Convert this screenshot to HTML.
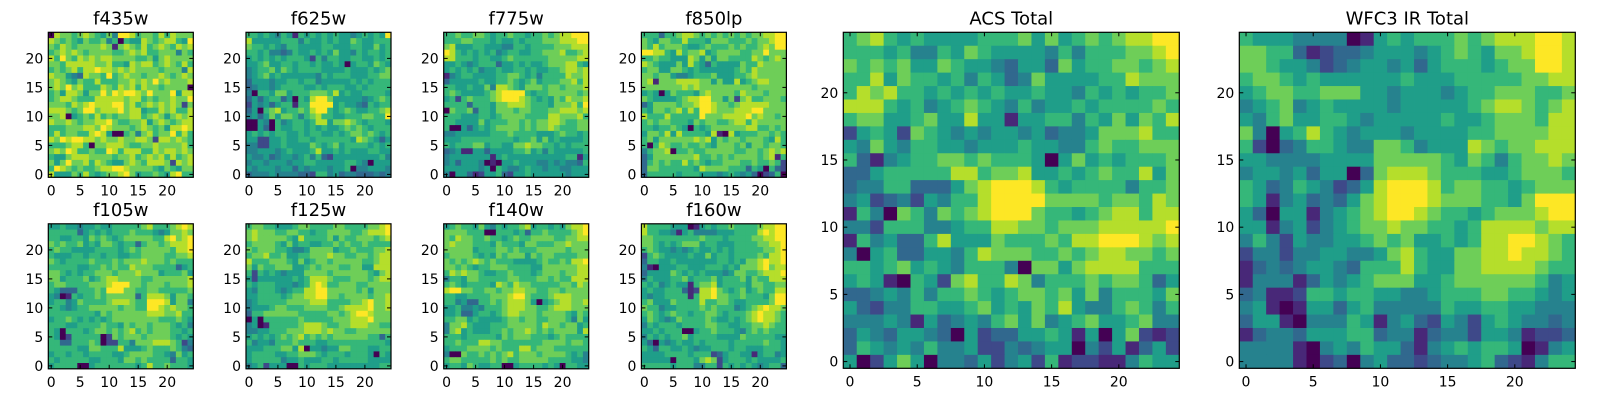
<!DOCTYPE html>
<html><head><meta charset="utf-8"><style>
html,body{margin:0;padding:0;background:#fff;}
svg{display:block;}
text{font-family:"DejaVu Sans","Liberation Sans",sans-serif;fill:#000;}
</style></head><body>
<svg id="fig" width="1600" height="400" viewBox="0 0 1600 400" xmlns="http://www.w3.org/2000/svg"></svg>
<script>
// Panel titles
const titles = ["f435w","f625w","f775w","f850lp","f105w","f125w","f140w","f160w","ACS Total","WFC3 IR Total"];
const tickValues = [0,5,10,15,20];
const tickLabels = ["0","5","10","15","20"];
const viridis = ["#440154","#482878","#3e4989","#31688e","#26828e","#1f9e89","#35b779","#6ece58","#b5de2b","#fde725"];
// Grids: rows from y=24 (top) down to y=0; digit = colour level 0..9
const f435w = ["0877678765749986776868777","8767657667460655876788659","7687677778717876867876878","6787876777766787866777476","8697687878877776675787777","7768888877866587886787686","6767868898878787777677748","8775438776967877677876787","7876576686667787879787778","7879786668768786877677770","6758875779798998797779588","6788766688888788676778779","7776878988899786787878727","8887679978889788566878668","7780567686767788678757878","8778767788976677857876788","6667778879877767876758898","6867766898500674786779686","8798998878778778872887876","6667886077888766778777786","7879866766986888668788787","6557888777767786787868678","7579778687655787688872878","6987676678899877776576577","8555768656778975667658966"];
const f625w = ["6656546516565656554565659","8555556664655656557655666","7665654665555665556655756","6656443465565657554656656","5656565666526466556655656","5567556656656556505665765","4566757656666555565556567","4567565555554656665556677","3555455665664555556565666","3455456666556566655656666","4066577566677768565566665","3535663506589975555545676","2545356616699995655436566","3506785667689965676556678","4535757764678665566677669","0054064566568857787656665","0053065566565655676765666","5656566556566556567767656","5522556556656666665876535","4422556555576567566665656","4455545655568556565556655","5445345545646325555555564","4554555455665555566540555","5455545535455545560445554","3444544443326645344333434"];
const f775w = ["6676677656676656676788999","6667766656556566677788899","7855566555446656666777888","9865656564566556677786678","8866656655676666667777788","5565456663556565567778865","5656564556556656556678878","1456655556677656466668778","3555556556676567566677868","6655655748876577767767778","6765555678999965667777767","5626766678999876565768778","6666366657788876665777869","0766736657776776667788878","6665556656777766668877786","6655557566677676778876677","6005356567777676778766677","4455555566676666555676656","5556666666665667575655556","6566677566557787766565666","3451155355556675646555556","4555555515655555555556615","4535554010556555445454436","5555554506544565545544555","4055312556325565555554555"];
const f850lp = ["6663667887676767676778899","7657766866657776667677899","7686777655676667676678799","9988658677856777766779777","6676655587575776666876787","8765557586536555576687777","6775577656555555676877777","7767754456667555667877777","7817778888775755856788777","7777777878777777777677777","5650576665787777687776777","7655556788997757278667776","3577776778998776788888777","6577678686998777888997777","8666866666977788889787767","6767766657677667886877777","6656676506567777778866767","5776858666658108566677676","6757777778785767767776586","6068766766765777675776776","4677806676677777667767878","3577777778667676777767816","3676766867656677766766762","3776666665877776663650632","3666665666555456545302360"];
const f105w = ["5565545565566666786667898","6666635656566676665457787","6655665767656777776689789","7676675657765663677678889","6766555566665676777776889","6555665665665566777766778","7656666766676777877767666","6666655667676687776666356","7765656677767778777566675","7756667567887777667777778","6776666777899977677767778","6533366676999776677666667","5401656676777773688875776","5664576666788876699985774","6654566777776776699878776","6666666657677777788877866","5667656565677777777666765","6665566667665767767776564","6506665677676786767776656","6502666660276777677776565","6633666760226647778887624","6666655776668555676667643","5665665666655677776654756","6566666556665776766663665","5666600566666665686676665"];
const f125w = ["6776655567766667766667789","7877766776656677776678889","7877777658666675766777678","6777765756655667676676666","7677766544577775667666778","6778667556677787766776788","8666777657567767777766788","7576677755676777667755888","6265654555777767777776578","5255555565688876667776788","6566655545689866777667777","5466654566889977777675777","5566665677889977677776778","4566666777788866667789778","4555677666777766788889778","3667777776666677678998777","0506666667666667778889777","4501666667888766778887766","4455666777888787766777777","5656567678676767777776636","6455466676665566666666665","5556667758055455776665566","5666655667776566656665065","5666664556555665666665555","4562555006566655555555566"];
const f140w = ["5676657546566785665657889","7777666006665636676666789","7687766766567667777667788","7877766657666577666778777","7777756667767666777776777","6777765657677757677666677","7676787676665555676676889","7767656677766665577777788","6878776556676665677767788","4665776666677666776766888","6765666658768776666677687","8997766776778877667767777","6655666677789976667888777","6645336676788875056788778","5564454666788877667888777","5563356656788777677776576","6677565555677677667776475","4778655566677777687767756","4785655566767787676777758","6665666665767776665676666","6676668877666666677776776","5666777767666886777666666","4007667676786777677776564","6776666676766777776666554","5665765566005666656506655"];
const f160w = ["8666655501565667666678899","8665541564444555666689899","7766666666766656666778899","7765656777566555666677889","6765545456556565666667789","2676555565575665666676889","3665565555555665657789889","4105556655566656577789788","3555576565655545776678889","4655566756667566675766888","6564565516778566665776677","5655666312889765675676688","5455666616889776676665799","6755576666866776556666799","7664556666767666456789887","6765676656677656667898876","5765457666676556567898876","4656665666677665566778766","5565666005667666546767666","4656566756666555576666655","5305456556566665666667665","6536655654556665665556665","5555666656662356655156645","5555506665787256665655556","6666656664466265656545663"];
const acsTotal = ["6786565555666757567678899","6665644657655554646667789","7676755765543553756677678","6685766564653475555668777","6878665656565565546565667","8886564567654645565666676","6775567558551556646575768","2565276545455453445777866","5475466554555655446766777","6314566776766650575656667","3356666688677855656766857","3446633357899986566664667","4523425466899997777677687","1640764767899976656788688","4426664456688776777888889","1645336855576667688999878","4056335546877766767887767","6656756546664077578888666","5651065278668746667677635","3345464667656776757466657","5324466556756576854467646","4445415345467574567556744","3543554305233556515057212","3654546445224345504251352","5025750443524526122114655"];
const wfc3Total = ["6555444401565666767888998","7766312334555456765778998","7765542345545356665677998","6776565555556555666667788","5677667775545554566777667","4567456555545555567887678","5467556654555556556777688","7405686545554555566777788","6203466544776455587677888","5544445555777776576467787","4554535503788876665567776","6534654235899986776656777","6514534357899987776657999","5305514567899876656777899","5514524567787766568888788","4642544556767556568899876","2442445544578655778898876","1343455436668655778888766","1444135456777556777777645","3411266566554456667766545","4510155356444446556655444","3551044465145325425654434","1344355566344134425541223","4444104546553145656650145","4444102304533234456321466"];
const grids = [f435w,f625w,f775w,f850lp,f105w,f125w,f140w,f160w,acsTotal,wfc3Total];

const NS = "http://www.w3.org/2000/svg";
const svg = document.getElementById('fig');
function mk(tag, attrs, parent){
  const e = document.createElementNS(NS, tag);
  for (const k in attrs) e.setAttribute(k, attrs[k]);
  (parent||svg).appendChild(e);
  return e;
}
const smallX = [48.3, 246, 443.7, 641.4];
const boxes = [];
for (let r=0;r<2;r++) for (let c=0;c<4;c++) boxes.push([smallX[c], r===0?32.3:223.8, 145]);
boxes.push([843.3, 32.3, 336]);
boxes.push([1239.3, 32.3, 336]);

const N = 25;
boxes.forEach((b, p) => {
  const [L, T, S] = b;
  const cell = S / N;
  const g = mk('g', {});
  
  
  const xScale = v => L + (v + 0.5) * cell;
  const yScale = v => T + S - (v + 0.5) * cell;
  const grid = grids[p];
  for (let row = 0; row < N; row++) {
    const yv = N - 1 - row;
    const str = grid[row] || "";
    for (let col = 0; col < N; col++) {
      const ch = str.charAt(col);
      const lvl = ch === "" ? 6 : parseInt(ch, 10);
      const rc = mk('rect', {x: (xScale(col) - cell/2).toFixed(2), y: (yScale(yv) - cell/2).toFixed(2), width: (cell+0.4).toFixed(2), height: (cell+0.4).toFixed(2), fill: viridis[lvl]}, g);
      
      
    }
  }
  const frame = mk('rect', {x:L, y:T, width:S, height:S, fill:'none', stroke:'#000', 'stroke-width':1.2}, g);
  
  
  tickValues.forEach((v, i) => {
    const x = xScale(v), y = yScale(v);
    mk('line', {x1:x, y1:T+S, x2:x, y2:T+S-4, stroke:'#000', 'stroke-width':1}, g);
    mk('line', {x1:x, y1:T, x2:x, y2:T+4, stroke:'#000', 'stroke-width':1}, g);
    mk('line', {x1:L, y1:y, x2:L+4, y2:y, stroke:'#000', 'stroke-width':1}, g);
    mk('line', {x1:L+S, y1:y, x2:L+S-4, y2:y, stroke:'#000', 'stroke-width':1}, g);
    const xt = mk('text', {x:x, y:T+S+18, 'font-size':14, 'text-anchor':'middle'}, g);
    xt.textContent = tickLabels[i];
    
    
    const yt = mk('text', {x:L-5, y:y+5, 'font-size':14, 'text-anchor':'end'}, g);
    yt.textContent = tickLabels[i];
    
    
  });
  const tt = mk('text', {x:L+S/2, y:T-8, 'font-size':18, 'text-anchor':'middle'}, g);
  tt.textContent = titles[p];
  
  
});
</script>
</body></html>
